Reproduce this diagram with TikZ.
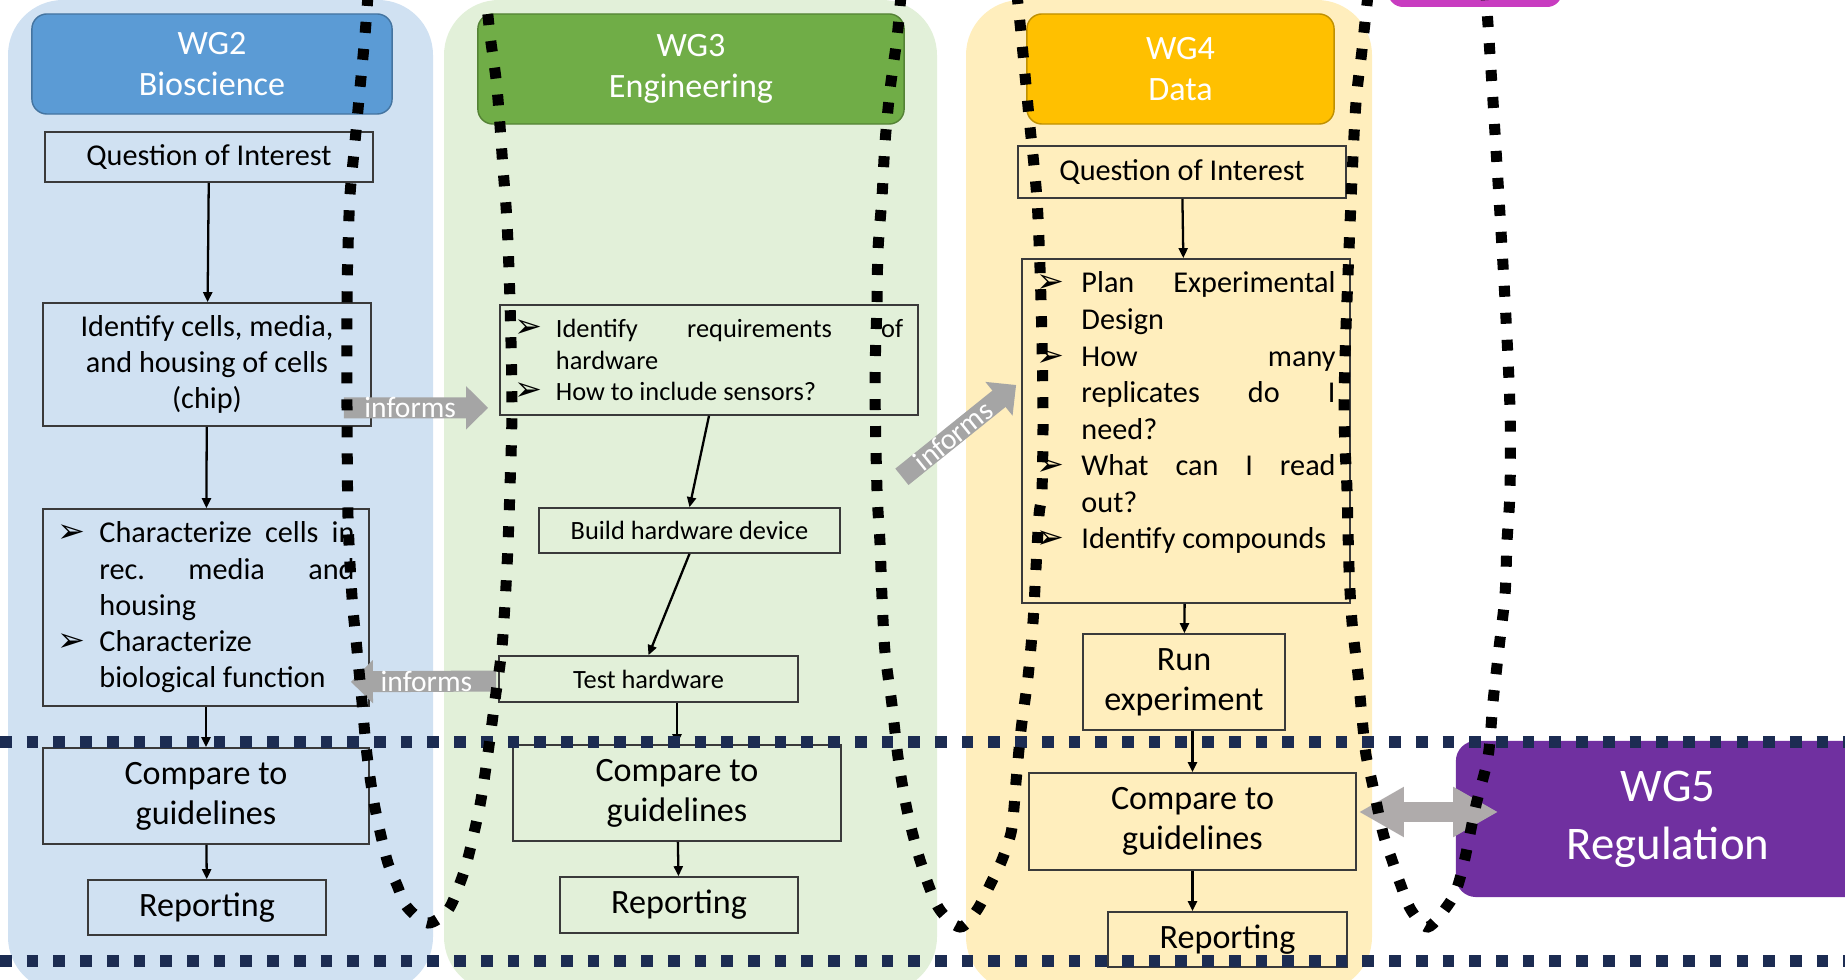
\documentclass[tikz,border=0pt]{standalone}
\usepackage{fontspec}
\setmainfont{Carlito}
\newfontfamily\dejavu{DejaVu Sans}
\usetikzlibrary{positioning,arrows.meta}
\definecolor{bioPanel}{HTML}{D0E1F2}
\definecolor{engPanel}{HTML}{E2F0D9}
\definecolor{datPanel}{HTML}{FFEEBD}
\definecolor{wgblue}{HTML}{5B9BD5}
\definecolor{wggreen}{HTML}{70AD47}
\definecolor{wggold}{HTML}{FFC000}
\definecolor{wgpurple}{HTML}{7030A0}
\definecolor{wgmagenta}{HTML}{C83CC0}
\definecolor{infgray}{HTML}{A5A5A5}
\definecolor{dblgray}{HTML}{AFABAB}
\definecolor{navy}{HTML}{1C2C52}
\definecolor{boxline}{HTML}{3A3A3A}
\hyphenpenalty=10000
\tolerance=10000
\hbadness=10000
\newcommand{\bul}[1]{\par\hangindent=#1\hangafter=1\noindent\makebox[#1][l]{\dejavu\fontsize{9.5}{9.5}\selectfont\char"27A2}}

\begin{document}
\begin{tikzpicture}[x=0.01cm, y=-0.01cm,
  hdr/.style={rounded corners=0.15cm, fill=#1, draw=#1!75!black, line width=0.4pt,
              text=white, font=\fontsize{9.7}{11.7}\selectfont, align=center, inner sep=0pt},
  wbox/.style={draw=boxline, line width=0.45pt, inner sep=0pt, align=center},
  bbox/.style={draw=boxline, line width=0.45pt, inner sep=0pt},
  fbig/.style={font=\fontsize{9.7}{11.4}\selectfont},
  fmid/.style={font=\fontsize{8.6}{10.3}\selectfont},
  fsml/.style={font=\fontsize{7.5}{9}\selectfont},
  arr/.style={-{Triangle[length=0.1cm,width=0.09cm]}, line width=0.65pt},
  fat/.style={draw=#1, line width=0.21cm, -{Triangle[length=0.22cm,width=0.42cm]}},
  dbl/.style={draw=#1, line width=0.19cm,
              {Triangle[length=0.45cm,width=0.47cm]}-{Triangle[length=0.45cm,width=0.47cm]}},
  inftext/.style={text=white, font=\fontsize{8.4}{8.4}\selectfont, inner sep=0pt},
  navydots/.style={draw=navy, line width=0.115cm, dash pattern=on 0.117cm off 0.15cm},
  blackdots/.style={draw=black, line width=0.11cm, dash pattern=on 0.11cm off 0.16cm},
]
\useasboundingbox (0,0) rectangle (1845,980);
\clip (0,0) rectangle (1845,980);

\fill[bioPanel, rounded corners=0.55cm] (8,0) rectangle (433,992);
\fill[engPanel, rounded corners=0.55cm] (444,0) rectangle (937,992);
\fill[datPanel, rounded corners=0.55cm] (966,0) rectangle (1372,992);

\node[fill=wgmagenta, rounded corners=0.15cm, minimum width=1.74cm, minimum height=0.4cm,
      inner sep=0pt] (wg1) at (1475,-13) {};
\node[fill=wgpurple, rounded corners=0.2cm, minimum width=4.24cm, minimum height=1.56cm,
      inner sep=0pt, text=white, align=center, font=\fontsize{13.3}{16.5}\selectfont]
      (wg5) at (1668,819) {WG5\\Regulation};

\node[hdr=wgblue, minimum width=3.6cm, minimum height=1cm] (h2) at (212,64) {WG2\\Bioscience};
\node[wbox, fmid, minimum width=3.28cm, minimum height=0.5cm] (q2) at (209,157) {Question of Interest};
\node[wbox, fmid, minimum width=3.28cm, minimum height=1.23cm] (id2) at (207,364.5)
     {Identify cells, media,\\and housing of cells\\(chip)};
\node[bbox, fmid, minimum width=3.26cm, minimum height=1.97cm] (ch2) at (206,607.5)
     {\begin{minipage}{2.97cm}\bul{0.42cm}Characterize~cells~in\linebreak rec.~media~and\linebreak housing%
      \bul{0.42cm}Characterize\\biological~function\end{minipage}};
\node[wbox, fbig, minimum width=3.26cm, minimum height=0.96cm] (cmp2) at (206,796) {Compare to\\guidelines};
\node[wbox, fbig, minimum width=2.38cm, minimum height=0.55cm] (rep2) at (207,907.5) {Reporting};

\node[hdr=wggreen, minimum width=4.26cm, minimum height=1.1cm] (h3) at (691,69) {WG3\\Engineering};
\node[bbox, fsml, minimum width=4.18cm, minimum height=1.1cm] (id3) at (709,360)
     {\begin{minipage}{3.88cm}\bul{0.41cm}Identify~requirements~of\linebreak hardware%
      \bul{0.41cm}How~to~include~sensors?\end{minipage}};
\node[wbox, fsml, minimum width=3.01cm, minimum height=0.45cm] (bld3) at (689.5,530.5) {Build hardware device};
\node[wbox, fsml, minimum width=2.99cm, minimum height=0.46cm] (tst3) at (648.5,679) {Test hardware};
\node[wbox, fbig, minimum width=3.28cm, minimum height=0.96cm] (cmp3) at (677,793) {Compare to\\guidelines};
\node[wbox, fbig, minimum width=2.38cm, minimum height=0.56cm] (rep3) at (679,905) {Reporting};

\node[hdr=wggold, minimum width=3.07cm, minimum height=1.1cm] (h4) at (1180.5,69) {WG4\\Data};
\node[wbox, fmid, minimum width=3.28cm, minimum height=0.52cm] (q4) at (1182,172) {Question of Interest};
\node[bbox, font=\fontsize{8.6}{10.4}\selectfont, minimum width=3.28cm, minimum height=3.44cm] (pl4) at (1186,431)
     {\begin{minipage}[c][3.18cm][t]{2.99cm}\bul{0.45cm}Plan~Experimental\linebreak Design%
      \bul{0.45cm}How~many\linebreak replicates~do~I\linebreak need?%
      \bul{0.45cm}What~can~I~read\linebreak out?%
      \bul{0.45cm}Identify~compounds\end{minipage}};
\node[wbox, fbig, minimum width=2.02cm, minimum height=0.96cm] (run4) at (1184,682) {Run\\experiment};
\node[wbox, fbig, minimum width=3.27cm, minimum height=0.97cm] (cmp4) at (1192.5,821.5) {Compare to\\guidelines};
\node[wbox, fbig, minimum width=2.39cm, minimum height=0.55cm] (rep4) at (1227.5,939.5) {Reporting};

\draw[arr] (q2) -- (id2);
\draw[arr] (id2) -- (ch2);
\draw[arr] (ch2) -- (cmp2);
\draw[arr] (cmp2) -- (rep2);
\draw[arr] (id3.south) -- (bld3.north);
\draw[arr] (bld3.south) -- (tst3.north);
\draw[arr] (cmp3.north |- tst3.south) -- (cmp3.north);
\draw[arr] (cmp3) -- (rep3);
\draw[arr] (q4) -- (pl4);
\draw[arr] (pl4) -- (run4);
\draw[arr] (cmp4.north |- run4.south) -- (cmp4.north);
\draw[arr] (cmp4.south) -- (cmp4.south |- rep4.north);

\draw[fat=infgray] ([shift={(-28,-19)}]id2.south east) -- ([shift={(-11,-8)}]id3.south west)
     node[pos=0.46, inftext] {informs};
\draw[fat=infgray] ([shift={(-2,2)}]tst3.west) -- ([shift={(-19,-25)}]ch2.south east)
     node[pos=0.48, inftext] {informs};
\draw[fat=infgray] ([shift={(-17,61)}]id3.south east) -- ([shift={(-5,-46)}]pl4.west)
     node[pos=0.45, sloped, inftext] {informs};
\draw[dbl=dblgray] ([shift={(2,-9.5)}]cmp4.east) -- ([shift={(43,-7)}]wg5.west);

\draw[navydots] (0,742) -- (1845,742);
\draw[navydots] (0,961) -- (1845,961);

\draw[blackdots] plot[smooth] coordinates {(368,-5) (365,35) (360,88) (355,142) (350,195)
  (348,248) (347,302) (347,408) (348,517) (352,597) (357,650) (362,702) (367,755) (375,808)
  (387,860) (397,885) (407,907) (428,923) (448,910) (460,883) (468,858) (480,805) (488,753)
  (495,700) (502,647) (507,567) (510,487) (512,405) (510,302) (507,222) (503,168) (497,88)
  (490,35) (486,-5)};
\draw[blackdots] plot[smooth] coordinates {(901,-5) (897,38) (890,90) (885,143) (882,197)
  (878,250) (877,303) (875,383) (877,490) (880,543) (882,597) (885,652) (892,705) (898,757)
  (907,810) (920,860) (938,907) (960,927) (977,910) (991,883) (1002,860) (1011,833)
  (1014,808) (1016,782) (1021,730) (1028,677) (1033,622) (1036,568) (1039,515) (1042,490)
  (1043,410) (1041,300) (1037,200) (1029,117) (1021,33) (1017,-5)};
\draw[blackdots] plot[smooth] coordinates {(1368,-5) (1362,50) (1355,117) (1347,300)
  (1344,410) (1347,490) (1349,568) (1352,622) (1358,675) (1363,728) (1366,755) (1372,782)
  (1383,833) (1392,860) (1400,883) (1411,910) (1428,927) (1448,905) (1457,888) (1465,858)
  (1476,805) (1488,757) (1493,702) (1499,648) (1505,595) (1507,542) (1510,490) (1510,410)
  (1505,300) (1494,117) (1486,-5)};
\end{tikzpicture}
\end{document}
